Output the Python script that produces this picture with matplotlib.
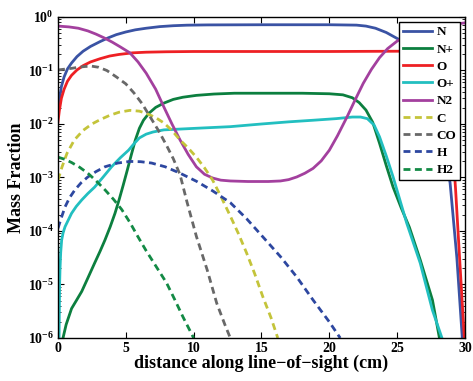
import numpy as np
import matplotlib
matplotlib.use("Agg")
import matplotlib.pyplot as plt

plt.rcParams['font.family'] = ['Liberation Serif', 'DejaVu Serif']
plt.rcParams['font.weight'] = 'bold'
plt.rcParams['mathtext.fontset'] = 'custom'
plt.rcParams['mathtext.rm'] = 'Liberation Serif:bold'
plt.rcParams['mathtext.bf'] = 'Liberation Serif:bold'
plt.rcParams['mathtext.it'] = 'Liberation Serif:bold:italic'

# distance (cm) and log10 mass fraction for each species
n_x = [0, 0.1, 0.25, 0.45, 0.7, 1.0, 1.4, 1.85, 2.4, 3.1, 3.7, 4.3, 5.0, 5.7, 6.5, 7.5, 8.5, 9.5, 11, 15, 20, 22, 22.7, 23.4, 24.2, 25.2, 26.3, 27.3, 28.2, 28.9, 29.4, 29.8]
n_log = [-1.79, -1.55, -1.3, -1.12, -0.97, -0.86, -0.74, -0.64, -0.55, -0.46, -0.39, -0.33, -0.28, -0.24, -0.21, -0.18, -0.163, -0.153, -0.148, -0.145, -0.145, -0.152, -0.17, -0.21, -0.29, -0.43, -0.75, -1.3, -2.1, -3.1, -4.5, -6.0]

np_x = [0.37, 0.6, 1.0, 1.4, 1.75, 2.2, 2.7, 3.1, 3.46, 3.85, 4.2, 4.5, 4.8, 5.1, 5.4, 5.7, 6.0, 6.3, 6.7, 7.2, 7.8, 8.5, 9.2, 10.2, 11.5, 13, 18, 20, 21, 21.7, 22.2, 22.7, 23.2, 23.7, 24.2, 24.7, 25.3, 25.9, 26.7, 27.6, 28.1]
np_log = [-6, -5.75, -5.45, -5.28, -5.13, -4.88, -4.6, -4.38, -4.17, -3.92, -3.67, -3.42, -3.15, -2.87, -2.58, -2.3, -2.08, -1.93, -1.8, -1.69, -1.61, -1.54, -1.5, -1.465, -1.44, -1.425, -1.425, -1.435, -1.455, -1.51, -1.6, -1.74, -1.97, -2.36, -2.78, -3.18, -3.57, -3.93, -4.54, -5.29, -5.98]

o_x = [0, 0.1, 0.25, 0.45, 0.7, 1.0, 1.4, 1.85, 2.4, 3.1, 3.8, 4.5, 5.5, 6.5, 8, 10, 15, 20, 25, 28.3, 28.7, 29.0, 29.3, 29.6, 29.95]
o_log = [-1.96, -1.75, -1.52, -1.35, -1.2, -1.09, -0.99, -0.91, -0.84, -0.78, -0.73, -0.7, -0.67, -0.658, -0.65, -0.645, -0.645, -0.645, -0.64, -0.64, -1.2, -2.1, -3.2, -4.5, -6.0]

op_x = [0.08, 0.1, 0.12, 0.15, 0.2, 0.27, 0.38, 0.52, 0.75, 1.0, 1.35, 1.75, 2.2, 2.7, 3.3, 3.95, 4.6, 5.2, 5.6, 6.0, 6.5, 7.0, 7.8, 10.2, 12.7, 15, 17, 18.8, 20.5, 21.7, 22.3, 22.8, 23.3, 23.7, 24.2, 24.7, 25.2, 25.7, 26.7, 27.6, 28.3]
op_log = [-6, -5.5, -5.0, -4.7, -4.4, -4.17, -4.03, -3.92, -3.8, -3.67, -3.54, -3.42, -3.3, -3.18, -3.0, -2.8, -2.63, -2.49, -2.37, -2.26, -2.19, -2.15, -2.11, -2.08, -2.05, -2.0, -1.96, -1.93, -1.9, -1.87, -1.87, -1.9, -2.02, -2.24, -2.6, -2.99, -3.42, -3.85, -4.6, -5.48, -6.0]

n2_x = [0, 0.8, 1.5, 2.2, 2.8, 3.4, 4.0, 4.6, 5.3, 5.9, 6.5, 7.2, 7.8, 8.4, 9.0, 9.6, 10.2, 10.8, 11.4, 12.0, 12.7, 14, 15.5, 16.4, 17.0, 17.6, 18.2, 18.8, 19.4, 20, 20.6, 21.3, 21.9, 22.5, 23.1, 23.7, 24.3, 25, 26, 27.5, 29, 30]
n2_log = [-0.17, -0.185, -0.21, -0.26, -0.32, -0.39, -0.47, -0.56, -0.67, -0.84, -1.05, -1.35, -1.68, -2.0, -2.3, -2.57, -2.8, -2.94, -3.01, -3.05, -3.065, -3.075, -3.075, -3.065, -3.04, -2.99, -2.92, -2.83, -2.69, -2.49, -2.22, -1.87, -1.55, -1.24, -0.98, -0.76, -0.59, -0.45, -0.31, -0.2, -0.14, -0.11]

c_x = [0, 0.3, 0.66, 1.2, 1.85, 2.5, 3.1, 3.8, 4.5, 5.3, 6.0, 6.5, 7.2, 7.8, 8.4, 9.0, 9.6, 10.2, 10.8, 11.4, 12.0, 12.7, 13.3, 13.9, 14.5, 15.1, 15.7, 16.2]
c_log = [-3.05, -2.8, -2.55, -2.3, -2.12, -2.0, -1.92, -1.84, -1.78, -1.745, -1.76, -1.8, -1.88, -1.98, -2.12, -2.3, -2.45, -2.62, -2.82, -3.05, -3.35, -3.72, -4.05, -4.41, -4.8, -5.23, -5.62, -6.0]

co_x = [0, 0.5, 1.0, 1.5, 2.0, 2.5, 3.0, 3.6, 4.3, 5.0, 5.6, 6.2, 6.8, 7.4, 8.0, 8.5, 9.0, 9.5, 10.2, 11.0, 11.7, 12.3, 12.7]
co_log = [-0.99, -0.975, -0.96, -0.94, -0.925, -0.92, -0.94, -1.0, -1.12, -1.25, -1.42, -1.62, -1.87, -2.12, -2.4, -2.65, -2.95, -3.45, -4.1, -4.73, -5.35, -5.75, -6.0]

h_x = [0, 0.25, 0.52, 0.85, 1.25, 1.7, 2.2, 2.8, 3.46, 4.4, 5.3, 6.1, 6.9, 7.9, 9.0, 10.2, 11.4, 12.7, 13.9, 15.1, 16.4, 17.6, 18.8, 20.0, 20.8]
h_log = [-3.95, -3.75, -3.55, -3.38, -3.23, -3.1, -2.99, -2.89, -2.8, -2.73, -2.7, -2.705, -2.73, -2.8, -2.92, -3.07, -3.25, -3.47, -3.77, -4.11, -4.48, -4.86, -5.29, -5.7, -6.0]

h2_x = [0, 0.5, 1.0, 1.6, 2.2, 2.8, 3.46, 4.1, 4.7, 5.3, 5.9, 6.5, 7.15, 8.0, 8.6, 9.2, 9.7, 10.0]
h2_log = [-2.62, -2.66, -2.72, -2.81, -2.92, -3.06, -3.23, -3.41, -3.6, -3.84, -4.11, -4.37, -4.63, -4.97, -5.28, -5.6, -5.85, -6.0]

species = [
    ('N', n_x, n_log, '#3A53A4', '-'),
    ('N+', np_x, np_log, '#0C7F3F', '-'),
    ('O', o_x, o_log, '#EE2024', '-'),
    ('O+', op_x, op_log, '#22BFC0', '-'),
    ('N2', n2_x, n2_log, '#A3409E', '-'),
    ('C', c_x, c_log, '#C4C43A', '--'),
    ('CO', co_x, co_log, '#686868', '--'),
    ('H', h_x, h_log, '#2D47A0', '--'),
    ('H2', h2_x, h2_log, '#138A45', '--'),
]

fig = plt.figure(figsize=(4.73, 3.81), dpi=100)
ax = fig.add_axes([0.1226, 0.1129, 0.8605, 0.8425])

for name, xs, ls_, col, sty in species:
    ys = 10.0 ** np.array(ls_)
    if sty == '--':
        ax.plot(xs, ys, color=col, lw=2.0, linestyle='--', dashes=(2.5, 1.6), label=name)
    else:
        ax.plot(xs, ys, color=col, lw=2.0, label=name)

ax.set_yscale('log')
ax.set_xlim(0, 30)
ax.set_ylim(1e-6, 1)
ax.set_xticks([0, 5, 10, 15, 20, 25, 30])
ax.set_yticks([10.0 ** k for k in range(-6, 1)])
ax.set_yticklabels([r'$\mathbf{10^{%d}}$' % k for k in range(-6, 1)])
ax.tick_params(which='both', direction='in', top=True, right=True, labelsize=10)
ax.tick_params(which='major', length=4, width=0.8)
ax.tick_params(which='minor', length=2, width=0.6)
ax.tick_params(axis='y', pad=3)
ax.tick_params(axis='x', pad=3)
for sp in ax.spines.values():
    sp.set_linewidth(1.0)

ax.set_xlabel('distance along line\u2212of\u2212sight (cm)', fontsize=13, fontweight='bold', labelpad=0)
ax.set_ylabel('Mass Fraction', fontsize=13, fontweight='bold', labelpad=2)

leg = ax.legend(loc='upper right', bbox_to_anchor=(0.988, 0.984), borderaxespad=0,
                fancybox=False, framealpha=1, edgecolor='black', fontsize=9.5,
                handlelength=2.2, handletextpad=0.3, borderpad=0.3, labelspacing=0.38)
leg.get_frame().set_linewidth(1.0)

fig.savefig('out.png', dpi=100)
